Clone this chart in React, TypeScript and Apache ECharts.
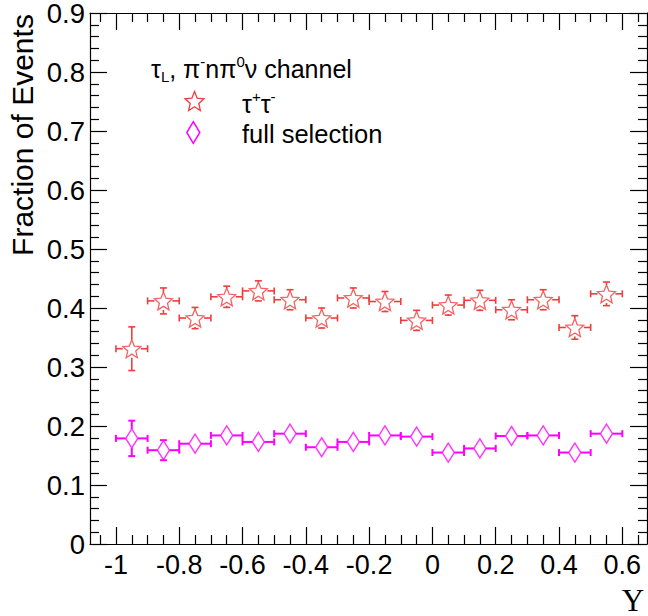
import React, { useEffect, useRef } from "react";
import * as echarts from "echarts";

// ---- data ----
const binCenters = [-0.95, -0.85, -0.75, -0.65, -0.55, -0.45, -0.35, -0.25, -0.15, -0.05, 0.05, 0.15, 0.25, 0.35, 0.45, 0.55];
const binHalfWidth = 0.05;
const tauValues = [0.331, 0.412, 0.383, 0.419, 0.429, 0.414, 0.383, 0.417, 0.411, 0.379, 0.405, 0.413, 0.397, 0.414, 0.367, 0.424];
const tauErrors = [0.037, 0.022, 0.018, 0.018, 0.017, 0.017, 0.017, 0.017, 0.017, 0.017, 0.017, 0.017, 0.017, 0.017, 0.02, 0.02];
const fullValues = [0.179, 0.159, 0.17, 0.184, 0.173, 0.187, 0.164, 0.173, 0.184, 0.182, 0.155, 0.162, 0.183, 0.184, 0.155, 0.187];
const fullErrors = [0.03, 0.017, 0.013, 0.013, 0.013, 0.013, 0.013, 0.013, 0.013, 0.013, 0.013, 0.013, 0.013, 0.013, 0.013, 0.013];

const xMajorTicks = [-1, -0.8, -0.6, -0.4, -0.2, 0, 0.2, 0.4, 0.6];
const xMinorTicks = [-1.05, -0.95, -0.9, -0.85, -0.75, -0.7, -0.65, -0.55, -0.5, -0.45, -0.35, -0.3, -0.25, -0.15, -0.1, -0.05, 0.05, 0.1, 0.15, 0.25, 0.3, 0.35, 0.45, 0.5, 0.55, 0.65];
const xMin = -1.082;
const xMax = 0.678;
const yMin = 0;
const yMax = 0.9;
const yStep = 0.1;

const yTitle = "Fraction of Events";
const xTitle = "Y";
const fullName = "full selection";

const RED = "#f03c3c";
const MAG = "#ff00ff";
const SANS = "'Liberation Sans', Arial, sans-serif";

// star symbol outline (open five-point star)
const starPts: number[][] = [];
for (let k = 0; k < 10; k++) {
  const a = -Math.PI / 2 + (k * Math.PI) / 5;
  const r = k % 2 === 0 ? 1 : 0.45;
  starPts.push([r * Math.cos(a), r * Math.sin(a)]);
}
const starPath = "path://M" + starPts.map((p) => p[0].toFixed(4) + "," + p[1].toFixed(4)).join("L") + "Z";

function makeErrorRenderer(color: string, gapX: number, gapY: number, lw: number) {
  return (params: any, api: any) => {
    const x = api.value(0);
    const y = api.value(1);
    const ex = api.value(2);
    const ey = api.value(3);
    const c = api.coord([x, y]);
    const l = api.coord([x - ex, y]);
    const r = api.coord([x + ex, y]);
    const t = api.coord([x, y + ey]);
    const b = api.coord([x, y - ey]);
    const cap = 3.5;
    const style = { stroke: color, lineWidth: lw };
    const children: any[] = [];
    const seg = (x1: number, y1: number, x2: number, y2: number) =>
      children.push({ type: "line", shape: { x1, y1, x2, y2 }, style });
    if (c[0] - l[0] > gapX) {
      seg(l[0], c[1], c[0] - gapX, c[1]);
      seg(c[0] + gapX, c[1], r[0], c[1]);
    }
    seg(l[0], c[1] - cap, l[0], c[1] + cap);
    seg(r[0], c[1] - cap, r[0], c[1] + cap);
    if (c[1] - t[1] > gapY) {
      seg(c[0], t[1], c[0], c[1] - gapY);
      seg(c[0], c[1] + gapY, c[0], b[1]);
      seg(c[0] - cap, t[1], c[0] + cap, t[1]);
      seg(c[0] - cap, b[1], c[0] + cap, b[1]);
    }
    return { type: "group", children };
  };
}

export default function App() {
  const ref = useRef<HTMLDivElement>(null);
  useEffect(() => {
    document.body.style.margin = "0";
    const chart = echarts.init(ref.current!, null, { renderer: "svg" });

    const tauErrData = binCenters.map((x, i) => [x, tauValues[i], binHalfWidth, tauErrors[i]]);
    const fullErrData = binCenters.map((x, i) => [x, fullValues[i], binHalfWidth, fullErrors[i]]);
    const tauPts = binCenters.map((x, i) => [x, tauValues[i]]);
    const fullPts = binCenters.map((x, i) => [x, fullValues[i]]);

    const lineStyle = { color: "#000", width: 1.2 };
    const xBase = { type: "value", min: xMin, max: xMax, splitLine: { show: false } };
    const yBase = {
      type: "value",
      min: yMin,
      max: yMax,
      interval: yStep,
      splitLine: { show: false },
      axisLine: { show: true, onZero: false, lineStyle },
      axisTick: { show: true, inside: true, length: 17, lineStyle },
      minorTick: { show: true, splitNumber: 5, length: 9, lineStyle },
    };

    const legendStar = starPts.map((p) => [194.5 + p[0] * 10, 102 + p[1] * 10.5]);
    const legendDiamond = [
      [193.3, 121.7],
      [199.8, 132.5],
      [193.3, 143.3],
      [186.8, 132.5],
    ];

    chart.setOption({
      animation: false,
      grid: { left: 90, top: 13, right: 1, bottom: 72, outerBoundsMode: "none" },
      xAxis: [
        {
          ...xBase,
          position: "bottom",
          axisLine: { show: true, onZero: false, lineStyle },
          axisTick: { show: true, inside: true, length: 17, customValues: xMajorTicks, lineStyle },
          axisLabel: {
            show: true,
            customValues: xMajorTicks,
            margin: 7,
            fontSize: 27,
            fontFamily: SANS,
            color: "#000",
          },
        },
        {
          ...xBase,
          position: "bottom",
          axisLine: { show: false, onZero: false },
          axisTick: { show: true, inside: true, length: 9, customValues: xMinorTicks, lineStyle },
          axisLabel: { show: false },
        },
        {
          ...xBase,
          position: "top",
          axisLine: { show: true, onZero: false, lineStyle },
          axisTick: { show: true, inside: true, length: 17, customValues: xMajorTicks, lineStyle },
          axisLabel: { show: false },
        },
        {
          ...xBase,
          position: "top",
          axisLine: { show: false, onZero: false },
          axisTick: { show: true, inside: true, length: 9, customValues: xMinorTicks, lineStyle },
          axisLabel: { show: false },
        },
      ],
      yAxis: [
        {
          ...yBase,
          position: "left",
          axisLabel: {
            show: true,
            margin: 5,
            fontSize: 27.5,
            lineHeight: 22,
            fontFamily: SANS,
            color: "#000",
            padding: [3, 0, 0, 0],
            formatter: (v: number) => String(Math.round(v * 10) / 10),
          },
        },
        {
          ...yBase,
          position: "right",
          axisLabel: { show: false },
        },
      ],
      series: [
        {
          type: "custom",
          xAxisIndex: 0,
          yAxisIndex: 0,
          renderItem: makeErrorRenderer(RED, 9, 9, 1.6),
          data: tauErrData,
          z: 2,
        },
        {
          type: "scatter",
          xAxisIndex: 0,
          yAxisIndex: 0,
          symbol: starPath,
          symbolSize: [18, 18],
          itemStyle: { color: "rgba(0,0,0,0)", borderColor: RED, borderWidth: 1.3 },
          data: tauPts,
          z: 3,
        },
        {
          type: "custom",
          xAxisIndex: 0,
          yAxisIndex: 0,
          renderItem: makeErrorRenderer(MAG, 6, 9.5, 2),
          data: fullErrData,
          z: 2,
        },
        {
          type: "scatter",
          xAxisIndex: 0,
          yAxisIndex: 0,
          symbol: "diamond",
          symbolSize: [12, 19],
          itemStyle: { color: "rgba(0,0,0,0)", borderColor: MAG, borderWidth: 1.5 },
          data: fullPts,
          z: 3,
        },
      ],
      graphic: [
        {
          type: "text",
          x: 22.8,
          y: 135,
          rotation: Math.PI / 2,
          style: {
            text: yTitle,
            fontSize: 30,
            fontFamily: SANS,
            fill: "#000",
            align: "center",
            verticalAlign: "middle",
          },
        },
        {
          type: "text",
          x: 633,
          y: 600,
          style: {
            text: xTitle,
            fontSize: 31,
            fontFamily: "'Liberation Serif', 'Times New Roman', serif",
            fill: "#000",
            align: "center",
            verticalAlign: "middle",
          },
        },
        {
          type: "text",
          x: 151,
          y: 69,
          style: {
            text: "{m|τ}{sub|L}{m|, π}{sup|-}{m|nπ}{sup|0}{m|ν channel}",
            fill: "#000",
            align: "left",
            verticalAlign: "middle",
            rich: {
              m: { fontSize: 25, fontFamily: SANS, lineHeight: 30, fill: "#000" },
              sup: { fontSize: 15, fontFamily: SANS, lineHeight: 15, verticalAlign: "top", fill: "#000" },
              sub: { fontSize: 15, fontFamily: SANS, lineHeight: 11, verticalAlign: "bottom", fill: "#000" },
            },
          },
        },
        {
          type: "text",
          x: 242,
          y: 103.5,
          style: {
            text: "{m|τ}{sup|+}{m|τ}{sup|-}",
            fill: "#000",
            align: "left",
            verticalAlign: "middle",
            rich: {
              m: { fontSize: 25, fontFamily: SANS, lineHeight: 30, fill: "#000" },
              sup: { fontSize: 15, fontFamily: SANS, lineHeight: 15, verticalAlign: "top", fill: "#000" },
            },
          },
        },
        {
          type: "text",
          x: 242,
          y: 133.5,
          style: {
            text: fullName,
            fontSize: 25.5,
            fontFamily: SANS,
            fill: "#000",
            align: "left",
            verticalAlign: "middle",
          },
        },
        {
          type: "polygon",
          shape: { points: legendStar },
          style: { fill: "none", stroke: RED, lineWidth: 1.3 },
        },
        {
          type: "polygon",
          shape: { points: legendDiamond },
          style: { fill: "none", stroke: MAG, lineWidth: 1.5 },
        },
      ],
    });
    return () => chart.dispose();
  }, []);
  return <div ref={ref} style={{ width: 648, height: 616 }} />;
}
